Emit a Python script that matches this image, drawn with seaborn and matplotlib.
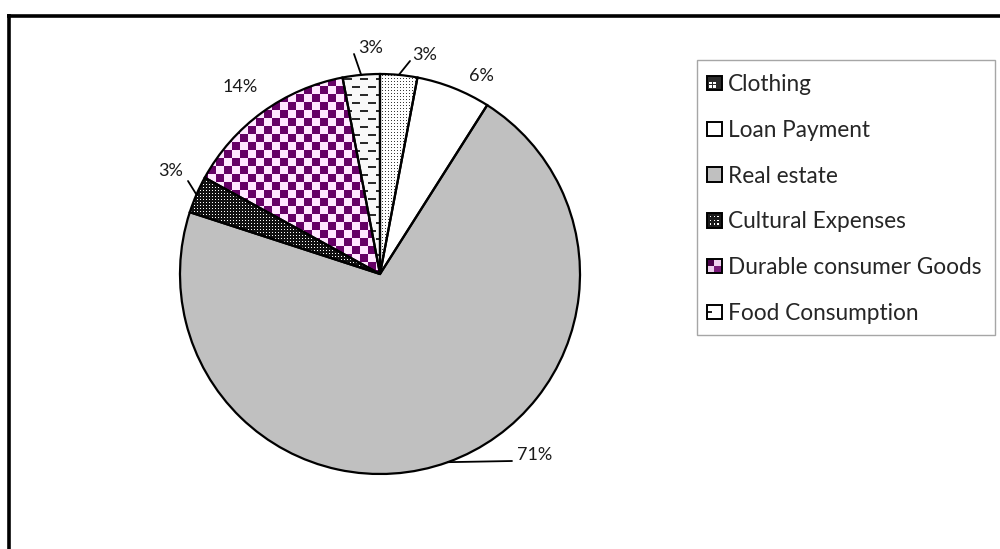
import numpy as np
import matplotlib
matplotlib.use("Agg")
import matplotlib.pyplot as plt
import matplotlib.colors as mcolors
import seaborn as sns
from matplotlib.lines import Line2D
from matplotlib.patches import Rectangle
from matplotlib.legend_handler import HandlerBase

# ---- data ----
categories = ["Clothing", "Loan Payment", "Real estate", "Cultural Expenses",
              "Durable consumer Goods", "Food Consumption"]
shares = [3, 6, 71, 3, 14, 3]
pct_labels = ["3%", "6%", "71%", "3%", "14%", "3%"]

sns.set_theme(style="white")
plt.rcParams["font.family"] = ["Lato", "DejaVu Sans"]

W, H, DPI = 1000, 549, 100
fig = plt.figure(figsize=(W / DPI, H / DPI), dpi=DPI)
fig.patch.set_facecolor("white")

# pie axes: 1 data unit == R_PX pixels
R_PX = 200
LIM = 1.2
side = 2 * LIM * R_PX
cx, cy = 380, 274
ax = fig.add_axes([(cx - side / 2) / W, (H - cy - side / 2) / H, side / W, side / H])

base_colors = ["white", "white", "#C0C0C0", "#111111", "#FFE6FF", "#F8F8F8"]
wedges, _ = ax.pie(shares, startangle=90, counterclock=False, colors=base_colors,
                   wedgeprops=dict(linewidth=0, edgecolor="none"))

# pixel textures clipped to the patterned wedges
N = int(2 * 1.1 * R_PX)
yy, xx = np.mgrid[0:N, 0:N]


def texture(mask, fg, bg):
    img = np.empty((N, N, 3))
    img[:] = mcolors.to_rgb(bg)
    img[mask] = mcolors.to_rgb(fg)
    return img


textures = {
    0: texture((xx % 3 == 0) & (yy % 3 == 0), "#3A3A3A", "white"),
    3: texture((xx % 3 == 1) & (yy % 3 == 1), "white", "#111111"),
    4: texture(((xx // 8) + (yy // 8)) % 2 == 0, "#660066", "#FFE6FF"),
    5: texture(((yy % 8) < 2) & (((xx + 8 * ((yy // 8) % 2)) % 16) < 8), "#2A2A2A", "#F8F8F8"),
}
for i, img in textures.items():
    im = ax.imshow(img, extent=(-1.1, 1.1, -1.1, 1.1), origin="upper",
                   interpolation="nearest", zorder=1.5)
    im.set_clip_path(wedges[i])

# outlines on top
ax.pie(shares, startangle=90, counterclock=False, colors=["none"] * len(shares),
       wedgeprops=dict(linewidth=1.6, edgecolor="black", fill=False, zorder=3))

ax.set_xlim(-LIM, LIM)
ax.set_ylim(-LIM, LIM)
ax.set_aspect("equal")
ax.axis("off")

# percentage labels with leader lines
bounds = np.cumsum([0] + shares) / sum(shares)
mid_deg = 90 - 360 * (bounds[:-1] + bounds[1:]) / 2
label_xy = [(0.225, 1.095), (0.505, 0.99), (0.685, -0.905),
            (-1.045, 0.515), (-0.70, 0.935), (-0.045, 1.13)]
label_ha = ["center", "center", "left", "center", "center", "center"]
leader_end = {0: (0.15, 1.065), 2: (0.66, -0.935), 3: (-0.96, 0.465), 5: (-0.13, 1.10)}

for i, txt in enumerate(pct_labels):
    ang = np.deg2rad(mid_deg[i])
    if i in leader_end:
        ex, ey = leader_end[i]
        ax.add_line(Line2D([np.cos(ang), ex], [np.sin(ang), ey], color="black",
                           lw=1.3, zorder=4, clip_on=False))
    ax.text(label_xy[i][0], label_xy[i][1], txt, ha=label_ha[i], va="center",
            fontsize=13, color="#1A1A1A", clip_on=False)


# legend swatches
class SwatchHandler(HandlerBase):
    def __init__(self, kind):
        super().__init__()
        self.kind = kind

    def create_artists(self, legend, orig_handle, xdescent, ydescent, width, height,
                       fontsize, trans):
        x0, y0 = -xdescent, -ydescent
        s = height
        arts = []
        kind = self.kind
        fc = {"clothing": "#2A2A2A", "loan": "white", "real": "#C0C0C0",
              "cultural": "#1A1A1A", "durable": "#F0D0F0", "food": "white"}[kind]
        arts.append(Rectangle((x0, y0), s, s, facecolor=fc, edgecolor="none", transform=trans))
        d = s / 4
        if kind == "clothing":
            for a in (1, 2):
                for b in (1, 2):
                    arts.append(Rectangle((x0 + a * d - d * 0.35, y0 + b * d - d * 0.35),
                                          d * 0.7, d * 0.7, facecolor="white",
                                          edgecolor="none", transform=trans))
        elif kind == "cultural":
            for a in (1, 2, 3):
                for b in (1, 2, 3):
                    arts.append(Rectangle((x0 + a * d - d * 0.2, y0 + b * d - d * 0.2),
                                          d * 0.4, d * 0.4, facecolor="white",
                                          edgecolor="none", transform=trans))
        elif kind == "durable":
            arts.append(Rectangle((x0, y0 + s / 2), s / 2, s / 2, facecolor="#4A004A",
                                  edgecolor="none", transform=trans))
            arts.append(Rectangle((x0 + s / 2, y0), s / 2, s / 2, facecolor="#7A1A7A",
                                  edgecolor="none", transform=trans))
        elif kind == "food":
            arts.append(Rectangle((x0, y0 + s * 0.45), s * 0.35, s * 0.15, facecolor="#222222",
                                  edgecolor="none", transform=trans))
        arts.append(Rectangle((x0, y0), s, s, facecolor="none", edgecolor="black",
                              lw=1.4, transform=trans))
        return arts


kinds = ["clothing", "loan", "real", "cultural", "durable", "food"]
proxies = [Rectangle((0, 0), 1, 1) for _ in categories]
LEG_FS = 16.3
fig.legend(proxies, categories, handler_map={p: SwatchHandler(k) for p, k in zip(proxies, kinds)},
           loc="upper left", bbox_to_anchor=(707 / W, 1 - 74 / H), frameon=False,
           fontsize=LEG_FS, handlelength=0.61, handleheight=0.61, handletextpad=0.3,
           labelspacing=1.095, borderpad=0, borderaxespad=0)

# legend box
fig.add_artist(Rectangle((697 / W, 1 - 335 / H), (995 - 697) / W, (335 - 60) / H,
                         transform=fig.transFigure, facecolor="none",
                         edgecolor="#A6A6A6", lw=1.0))

# outer frame (top and left edges)
fig.add_artist(Line2D([7 / W, 1.0], [1 - 15.5 / H] * 2, transform=fig.transFigure,
                      color="black", lw=2.6, solid_capstyle="butt"))
fig.add_artist(Line2D([9 / W] * 2, [0, 1 - 14 / H], transform=fig.transFigure,
                      color="black", lw=2.6, solid_capstyle="butt"))

fig.savefig("out.png", dpi=DPI, facecolor="white")
